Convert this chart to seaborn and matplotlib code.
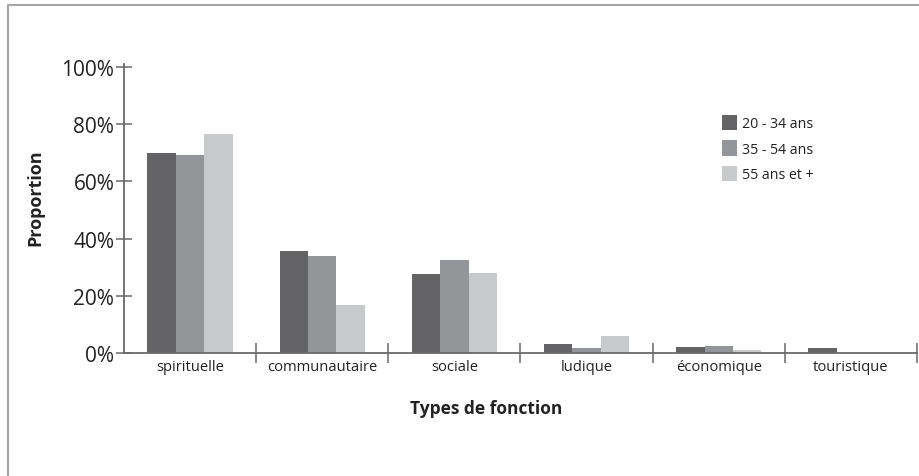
import matplotlib
matplotlib.use("Agg")
import matplotlib.pyplot as plt
import matplotlib.lines as mlines
import seaborn as sns
import pandas as pd
import numpy as np
from matplotlib.ticker import FixedLocator, PercentFormatter

categories = ["spirituelle", "communautaire", "sociale", "ludique", "économique", "touristique"]
groups = ["20 - 34 ans", "35 - 54 ans", "55 ans et +"]
v_20_34 = [70.0, 35.6, 27.7, 3.0, 2.0, 1.6]
v_35_54 = [69.1, 33.9, 32.6, 1.6, 2.3, 0.0]
v_55p = [76.5, 16.9, 28.0, 5.8, 1.0, 0.0]
y_ticks = [0, 20, 40, 60, 80, 100]
colors = ["#636365", "#949598", "#c8c9cb"]

rows = []
for g, vals in zip(groups, [v_20_34, v_35_54, v_55p]):
    for c, v in zip(categories, vals):
        rows.append({"Types de fonction": c, "Proportion": v, "Groupe": g})
df = pd.DataFrame(rows)

sns.set_theme(style="white")
plt.rcParams["font.family"] = ["Open Sans", "DejaVu Sans"]

fig = plt.figure(figsize=(9.2, 4.77), dpi=100)
W, H = 920, 477
AX_L, AX_R, AX_B, AX_T = 124, 917, 354, 64.6
ax = fig.add_axes([AX_L / W, 1 - AX_B / H, (AX_R - AX_L) / W, (AX_B - AX_T) / H])

sns.barplot(data=df, x="Types de fonction", y="Proportion", hue="Groupe",
            palette=colors, width=0.646, linewidth=0, saturation=1,
            order=categories, hue_order=groups, ax=ax, legend=True)

ax.set_xlim(-0.5, len(categories) - 0.5)
ax.set_ylim(0, 101.2)
for s in ["top", "right"]:
    ax.spines[s].set_visible(False)
axis_col = "#6a6a6a"
for s in ["left", "bottom"]:
    ax.spines[s].set_color(axis_col)
    ax.spines[s].set_linewidth(1.3)

ax.yaxis.set_major_locator(FixedLocator(y_ticks))
ax.yaxis.set_major_formatter(PercentFormatter(decimals=0))
ax.tick_params(axis="y", which="major", direction="inout", length=12, width=1.1,
               color=axis_col, labelsize=15, labelcolor="#222222", pad=1, left=True)

ax.set_xticks(range(len(categories)))
ax.set_xticklabels(categories)
ax.tick_params(axis="x", which="major", length=0, labelsize=10.6, labelcolor="#222222", pad=4)
ax.set_xticks(np.arange(0.5, len(categories), 1.0), minor=True)
ax.tick_params(axis="x", which="minor", direction="inout", length=15, width=1.1,
               color=axis_col, bottom=True)

ax.set_xlabel("Types de fonction", fontsize=12.5, fontweight="bold", color="#222222")
ax.xaxis.set_label_coords((486 - AX_L) / (AX_R - AX_L), -(409 - AX_B) / (AX_B - AX_T), transform=ax.transAxes)
ax.xaxis.label.set_va("center")
ax.set_ylabel("Proportion", fontsize=13, fontweight="bold", color="#222222")
ax.yaxis.set_label_coords(-(AX_L - 35) / (AX_R - AX_L), (AX_B - 198) / (AX_B - AX_T))
ax.yaxis.label.set_va("center")

leg = ax.legend(loc="upper left", bbox_to_anchor=((722 - AX_L) / (AX_R - AX_L), (AX_B - 116) / (AX_B - AX_T)),
                frameon=False, fontsize=10.2, handlelength=1.05, handleheight=1.3,
                handletextpad=0.35, labelspacing=0.62, borderaxespad=0, borderpad=0)
for t in leg.get_texts():
    t.set_color("#222222")

# outer frame lines
fig.add_artist(mlines.Line2D([8 / W, 1.0], [1 - 5.5 / H, 1 - 5.5 / H], color="#a5a5a8", lw=1.5,
                             transform=fig.transFigure))
fig.add_artist(mlines.Line2D([8 / W, 8 / W], [0, 1 - 5.5 / H], color="#a5a5a8", lw=1.5,
                             transform=fig.transFigure))

fig.savefig("out.png", dpi=100, facecolor="white")
